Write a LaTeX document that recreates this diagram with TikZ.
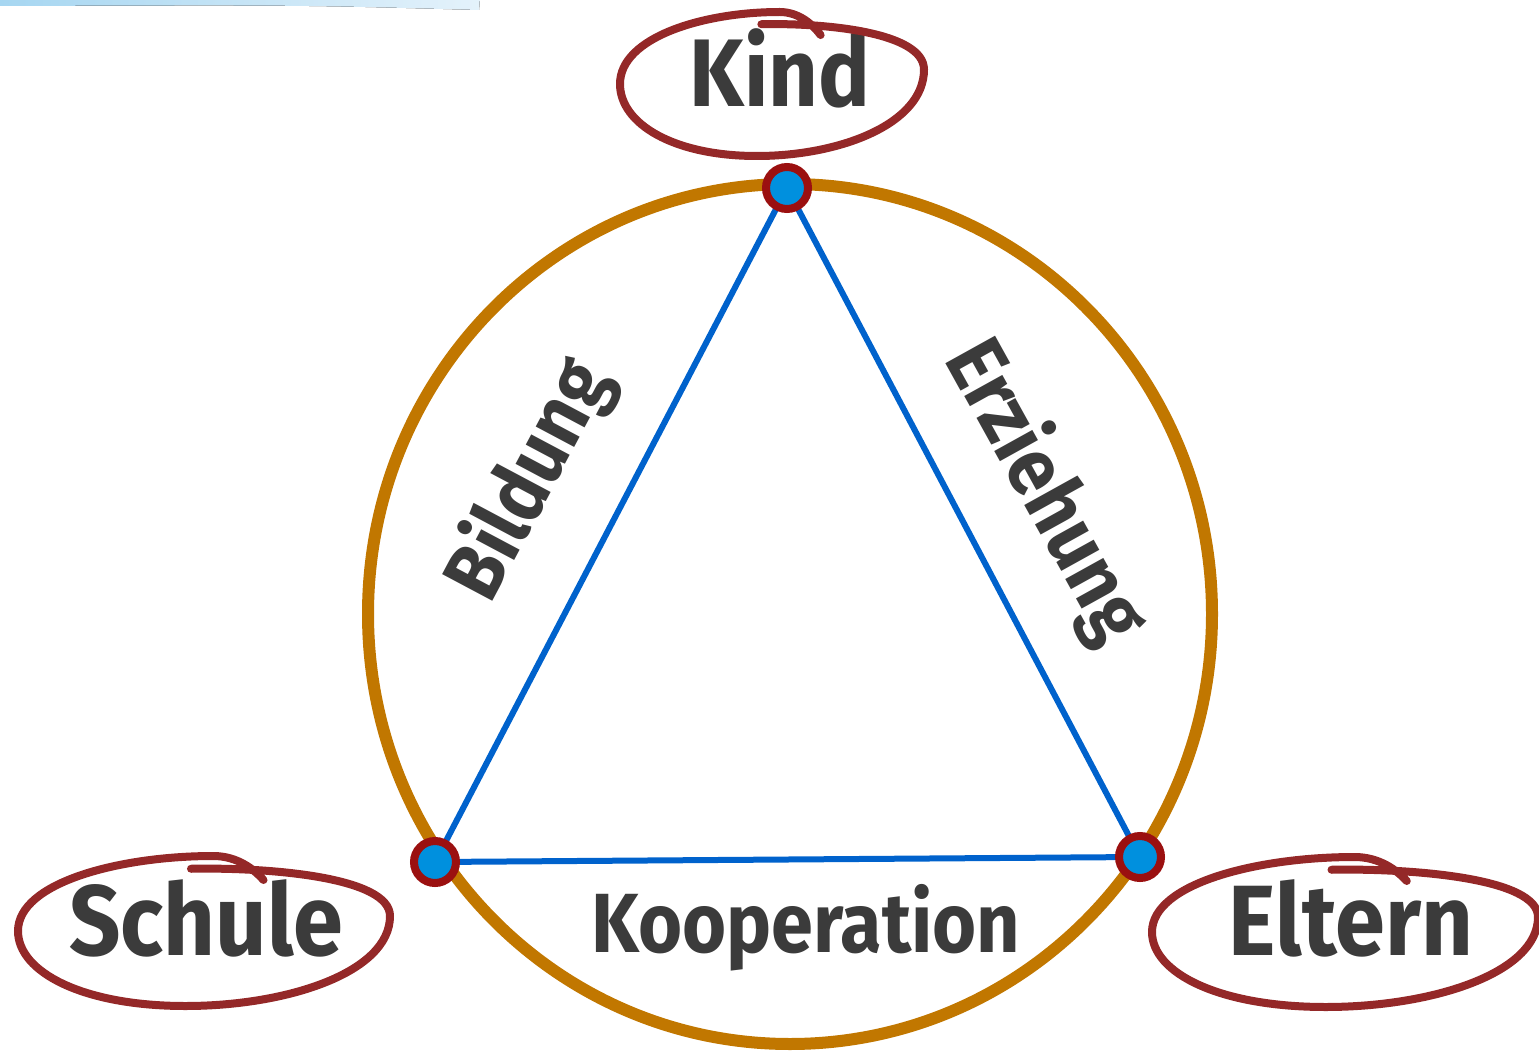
\documentclass[tikz,border=0pt]{standalone}
\usepackage{fontspec}
\usepackage{xcolor}
\usetikzlibrary{positioning}
\newfontfamily\handfont{Fira Sans}[FakeStretch=0.9]
\definecolor{ringgold}{HTML}{C17700}
\definecolor{edgeblue}{HTML}{0062CC}
\definecolor{dotblue}{HTML}{0090DE}
\definecolor{dotred}{HTML}{9B1010}
\definecolor{loopred}{HTML}{942828}
\definecolor{inkgray}{HTML}{3B3B3B}
\definecolor{bandleft}{HTML}{A6D6F1}
\definecolor{bandright}{HTML}{E4F2FB}
\newcommand{\handloop}[3]{%
  \draw[looppen, shift={(#1)}, xscale=#2, yscale=#3]
    (-0.07,-0.83) .. controls (0.35,-0.85) and (1.0,-0.72) .. (1.0,-0.2)
    .. controls (1.0,0.55) and (0.45,1.0) .. (-0.1,1.0)
    .. controls (-0.65,1.0) and (-1.0,0.55) .. (-1.0,0.0)
    .. controls (-1.0,-0.65) and (-0.45,-1.0) .. (0.05,-1.0)
    .. controls (0.18,-1.0) and (0.27,-0.82) .. (0.32,-0.68);}

\begin{document}
\begin{tikzpicture}[x=1pt, y=-1pt,
  ring/.style={draw=ringgold, line width=12pt},
  edge/.style={draw=edgeblue, line width=6pt},
  vertex/.style={circle, draw=dotred, fill=dotblue, line width=8pt, minimum size=42pt, inner sep=0pt},
  looppen/.style={draw=loopred, line width=8pt, line cap=round},
  bigword/.style={font=\handfont\bfseries\fontsize{100}{100}\selectfont, text=inkgray, inner sep=0pt, anchor=base},
  sideword/.style={font=\handfont\bfseries\fontsize{82}{82}\selectfont, text=inkgray, inner sep=0pt}]
  \useasboundingbox (0,0) rectangle (1539,1051);
  % light band at the top
  \fill[left color=bandleft, right color=bandright] (0,-2) -- (480,-2) -- (479,10) .. controls (300,5) .. (0,6) -- cycle;
  \coordinate (top) at (787,188);
  \coordinate (left) at (435,862);
  \coordinate (right) at (1140,857);
  \draw[ring] (790,614) ellipse [x radius=422, y radius=430];
  \draw[edge] (top) -- (left) -- (right) -- cycle;
  \node[vertex] (vtop) at (top) {};
  \node[vertex] (vleft) at (left) {};
  \node[vertex] (vright) at (right) {};
  % labels at the corners
  \node[bigword, font=\handfont\bfseries\fontsize{96}{96}\selectfont] (kind) at (780,107) {Kind};
  \node[bigword] (schule) at (206,955) {Schule};
  \node[bigword] (eltern) at (1351,955) {Eltern};
  \handloop{772,84}{152}{72}
  \handloop{204,931}{186}{75}
  \handloop{1345,932}{193}{75}
  % labels on the sides
  \node[sideword, rotate=62] (bildung) at (530,480) {Bildung};
  \node[sideword, rotate=-61] (erziehung) at (1045,492) {Erziehung};
  \node[sideword, anchor=base, font=\handfont\bfseries\fontsize{84}{84}\selectfont] (kooperation) at (806,952) {Kooperation};
\end{tikzpicture}
\end{document}
